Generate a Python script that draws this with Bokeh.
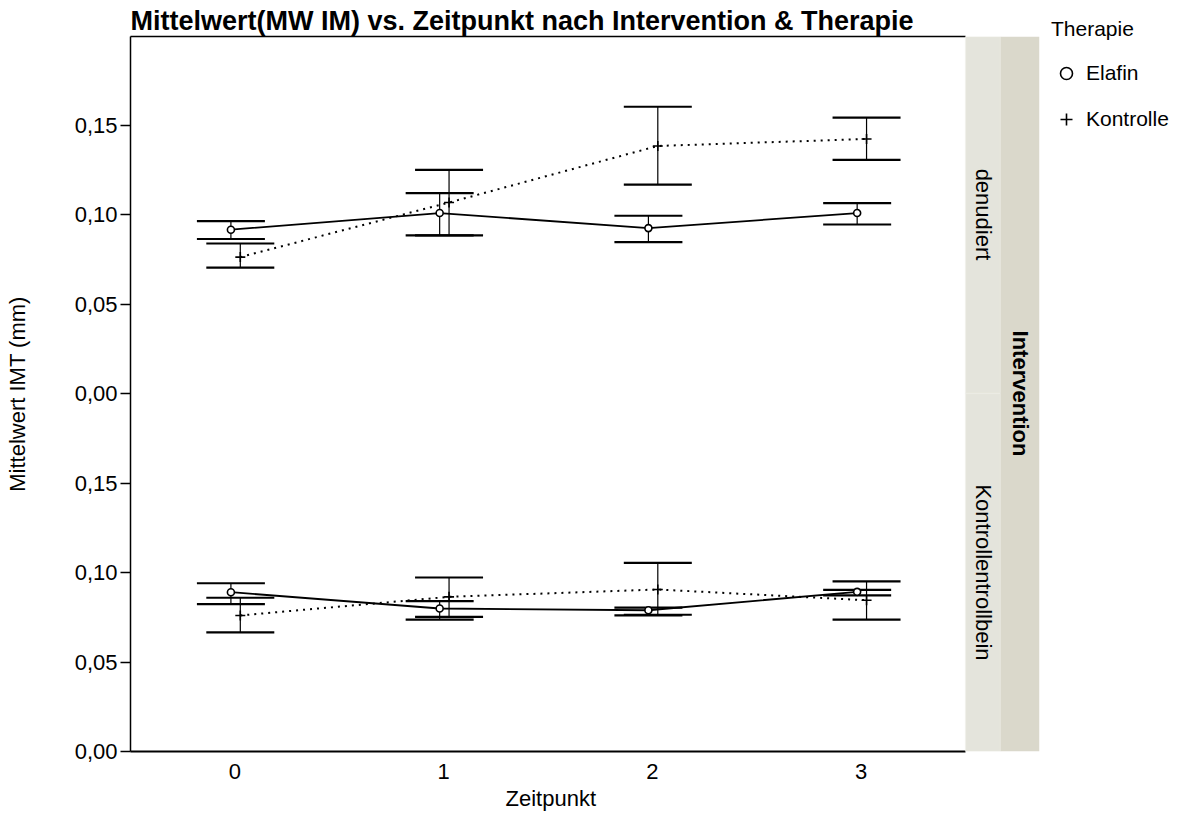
import numpy as np
from bokeh.plotting import figure
from bokeh.models import (Range1d, FixedTicker, LinearAxis, Whisker, TeeHead, Title,
                          ColumnDataSource, BoxAnnotation, Label, Legend, LegendItem)
from bokeh.embed import file_html
from bokeh.resources import INLINE

# ---------------- texts ----------------
title_text = "Mittelwert(MW IM) vs. Zeitpunkt nach Intervention & Therapie"
x_label = "Zeitpunkt"
y_label = "Mittelwert IMT (mm)"
facet_title = "Intervention"
legend_title = "Therapie"

# ---------------- data ----------------
zeitpunkt = [0, 1, 2, 3]
therapie = ["Elafin", "Kontrolle"]
intervention = ["denudiert", "Kontrollentrollbein"]

# facet "denudiert"
den_elafin_mean = [0.0915, 0.1008, 0.0924, 0.1008]
den_elafin_upper = [0.0963, 0.1119, 0.0993, 0.1063]
den_elafin_lower = [0.0863, 0.0883, 0.0846, 0.0944]
den_kontrolle_mean = [0.0762, 0.1067, 0.1383, 0.1422]
den_kontrolle_upper = [0.0838, 0.1249, 0.1602, 0.1541]
den_kontrolle_lower = [0.0703, 0.0883, 0.1167, 0.1305]

# facet "Kontrollentrollbein"
kon_elafin_mean = [0.0890, 0.0799, 0.0789, 0.0892]
kon_elafin_upper = [0.0940, 0.0840, 0.0804, 0.0903]
kon_elafin_lower = [0.0823, 0.0737, 0.0760, 0.0872]
kon_kontrolle_mean = [0.0760, 0.0864, 0.0905, 0.0845]
kon_kontrolle_upper = [0.0859, 0.0972, 0.1054, 0.0950]
kon_kontrolle_lower = [0.0665, 0.0752, 0.0764, 0.0737]

y_ticks = [0.00, 0.05, 0.10, 0.15]
y_tick_labels = ["0,00", "0,05", "0,10", "0,15"]

# ---------------- layout / style ----------------
FONT = "Liberation Sans"
PANEL = 0.2                    # each facet spans 0 .. 0.2
PX_PER_UNIT = 358 / PANEL
FRAME_W, FRAME_H = 909, 715
PX_PER_CAT = 835 / 4
X0, X1 = -0.5, 3.5
STRIP1 = 35 / PX_PER_CAT
STRIP2 = 39 / PX_PER_CAT
XEND = X1 + STRIP1 + STRIP2
YEND = FRAME_H / PX_PER_UNIT
DODGE_EL, DODGE_KO = -0.019, 0.026

p = figure(frame_width=FRAME_W, frame_height=FRAME_H,
           x_range=Range1d(X0, XEND), y_range=Range1d(0, YEND),
           x_axis_location=None, y_axis_location=None,
           output_backend="svg", toolbar_location=None,
           min_border_left=130, min_border_top=36, min_border_bottom=0, min_border_right=5)
p.extra_y_ranges = {"top": Range1d(-PANEL, YEND - PANEL)}
p.grid.visible = False
p.outline_line_color = None
p.background_fill_color = "white"
p.border_fill_color = "white"

p.title.text = title_text
p.title.text_font = FONT
p.title.text_font_size = "27px"
p.title.text_font_style = "bold"
p.title.text_color = "black"
p.title.align = "left"
p.title.standoff = 2
p.title.offset = 0

# y axis with repeated facet labels
yticks_all = [round(t, 4) for t in y_ticks] + [round(t + PANEL, 4) for t in y_ticks]
overrides = {t: lab for t, lab in zip(yticks_all, y_tick_labels * 2)}
yaxis = LinearAxis(ticker=FixedTicker(ticks=yticks_all), major_label_overrides=overrides,
                   axis_label=y_label, axis_label_text_font=FONT, axis_label_text_font_size="22px",
                   axis_label_text_font_style="normal", axis_label_text_color="black",
                   axis_label_standoff=42,
                   major_label_text_font=FONT, major_label_text_font_size="22px",
                   major_label_text_color="black", major_label_standoff=3,
                   major_tick_out=10, major_tick_in=0, minor_tick_out=0, minor_tick_in=0,
                   axis_line_width=1.5, major_tick_line_width=1.5,
                   axis_line_color="black", major_tick_line_color="black")
p.add_layout(yaxis, "left")

xaxis = LinearAxis(ticker=FixedTicker(ticks=zeitpunkt), bounds=(X0, X1),
                   major_label_text_font=FONT, major_label_text_font_size="22px",
                   major_label_text_color="black", major_label_standoff=12,
                   major_tick_out=0, major_tick_in=0, minor_tick_out=0, minor_tick_in=0,
                   axis_line_width=2.2, axis_line_color="black")
p.add_layout(xaxis, "below")

# x-axis title centred under the data area (not under the facet strips)
p.add_layout(Title(text=x_label, align="left", offset=375, standoff=4,
                   text_font=FONT, text_font_size="22px", text_font_style="normal",
                   text_color="black"), "below")

top_axis = LinearAxis(ticker=FixedTicker(ticks=[]), bounds=(X0, X1),
                      major_label_text_font_size="0px", major_label_standoff=0,
                      axis_label_standoff=0,
                      major_tick_out=0, major_tick_in=0, minor_tick_out=0, minor_tick_in=0,
                      axis_line_width=1.5, axis_line_color="black")
p.add_layout(top_axis, "above")

# facet strips
p.add_layout(BoxAnnotation(left=X1, right=X1 + STRIP1, bottom=PANEL, top=YEND,
                           fill_color="#E4E4DC", fill_alpha=1, line_color="#EDEDE7", line_width=1.5))
p.add_layout(BoxAnnotation(left=X1, right=X1 + STRIP1, bottom=0, top=PANEL,
                           fill_color="#E4E4DC", fill_alpha=1, line_color="#EDEDE7", line_width=1.5))
p.add_layout(BoxAnnotation(left=X1 + STRIP1, right=XEND, bottom=0, top=YEND,
                           fill_color="#DAD8CB", fill_alpha=1, line_color=None))
for i, name in enumerate(intervention):
    p.add_layout(Label(x=X1 + STRIP1 / 2, y=PANEL * (1.5 - i), text=name, angle=-np.pi / 2,
                       text_align="center", text_baseline="middle",
                       text_font=FONT, text_font_size="22px", text_color="black"))
p.add_layout(Label(x=X1 + STRIP1 + STRIP2 / 2, y=PANEL, text=facet_title, angle=-np.pi / 2,
                   text_align="center", text_baseline="middle",
                   text_font=FONT, text_font_size="22px", text_font_style="bold",
                   text_color="black"))

x_el = [z + DODGE_EL for z in zeitpunkt]
x_ko = [z + DODGE_KO for z in zeitpunkt]

facets = [
    ("top", den_elafin_mean, den_elafin_upper, den_elafin_lower,
     den_kontrolle_mean, den_kontrolle_upper, den_kontrolle_lower),
    ("default", kon_elafin_mean, kon_elafin_upper, kon_elafin_lower,
     kon_kontrolle_mean, kon_kontrolle_upper, kon_kontrolle_lower),
]

legend_renderers = {}
for rng, em, eu, el, km, ku, kl in facets:
    for xs, m, u, l, name in [(x_el, em, eu, el, "Elafin"), (x_ko, km, ku, kl, "Kontrolle")]:
        src = ColumnDataSource(dict(x=xs, mean=m, upper=u, lower=l))
        p.add_layout(Whisker(source=src, base="x", upper="upper", lower="lower",
                             dimension="height", line_color="black", line_width=1.2,
                             y_range_name=rng,
                             upper_head=TeeHead(size=68, line_width=2.2, line_color="black"),
                             lower_head=TeeHead(size=68, line_width=2.2, line_color="black")))
        if name == "Elafin":
            p.line("x", "mean", source=src, line_color="black", line_width=1.8, y_range_name=rng)
        else:
            p.line("x", "mean", source=src, line_color="black", line_width=2,
                   line_dash="2 5", y_range_name=rng)
    for xs, m, name in [(x_el, em, "Elafin"), (x_ko, km, "Kontrolle")]:
        src = ColumnDataSource(dict(x=xs, mean=m))
        if name == "Elafin":
            r = p.scatter("x", "mean", source=src, marker="circle", size=7, fill_color="white",
                          line_color="black", line_width=1.6, y_range_name=rng)
        else:
            r = p.scatter("x", "mean", source=src, marker="cross", size=10,
                          line_color="black", line_width=1.6, y_range_name=rng)
        legend_renderers[name] = r

legend = Legend(items=[LegendItem(label=t, renderers=[legend_renderers[t]]) for t in therapie],
                title=legend_title, title_text_font=FONT, title_text_font_size="21px",
                title_text_font_style="normal", title_text_color="black", title_standoff=17,
                label_text_font=FONT, label_text_font_size="21px", label_text_color="black",
                glyph_width=30, glyph_height=30, label_standoff=5, spacing=16,
                padding=0, margin=0, border_line_color=None, background_fill_alpha=0,
                location=(12, 617))
p.add_layout(legend, "right")

open("out.html", "w").write(file_html(p, INLINE))
